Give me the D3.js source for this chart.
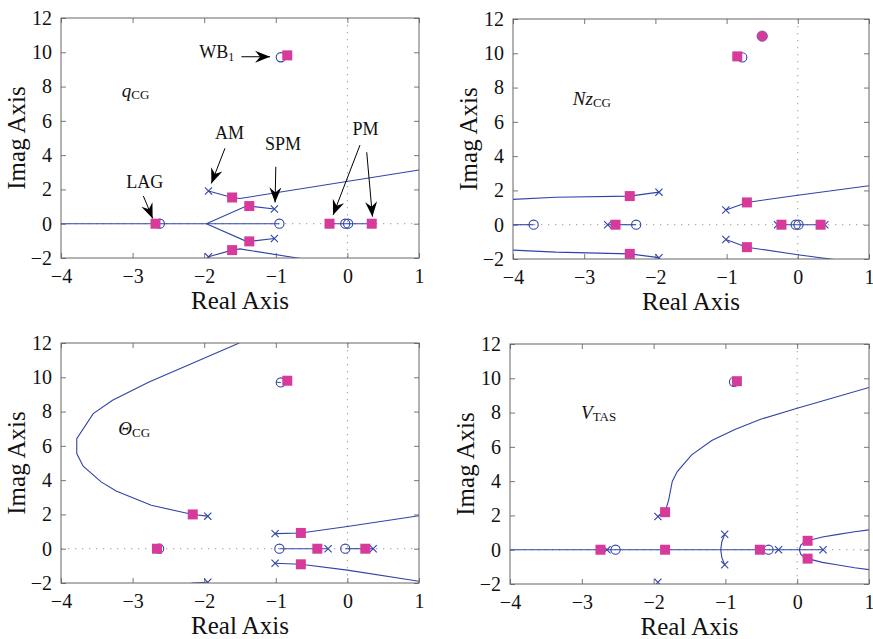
<!DOCTYPE html>
<html>
<head>
<meta charset="utf-8">
<script src="https://cdn.jsdelivr.net/npm/d3@7"></script>
<style>
  body { margin: 0; background: #fff; }
  svg { display: block; }
  text { font-family: "Liberation Serif", "Times New Roman", serif; fill: #111; }
</style>
</head>
<body>
<div id="main"></div>
<script>
// axis ticks (shared by all four plots)
const xTicks = [-4, -3, -2, -1, 0, 1];
const yTicks = [-2, 0, 2, 4, 6, 8, 10, 12];

// q_CG loop
const qLoci = [
  [[-4, 0], [-0.95, 0]],
  [[-1.94, 1.91], [-1.61, 1.53], [-1.5, 1.47], [1, 3.13]],
  [[-1.94, -1.93], [-1.61, -1.54], [-1.5, -1.47], [1, -3.13]],
  [[-1.97, 0], [-1.41, 1.03], [-1.37, 1.03], [-1.02, 0.86]],
  [[-1.97, 0], [-1.41, -1.03], [-1.37, -1.03], [-1.02, -0.86]],
  [[-0.25, 0], [0.34, 0]]
];
const qPoles = [[-1.94, 1.91], [-1.94, -1.93], [-1.02, 0.86], [-1.02, -0.86]];
const qZeros = [[-0.93, 9.71], [-2.62, 0], [-0.95, 0], [-0.03, 0], [0.01, 0]];
const qGains = [[-0.84, 9.82], [-1.61, 1.53], [-1.61, -1.54], [-1.37, 1.03], [-1.37, -1.03],
  [-2.68, 0], [-0.25, 0], [0.34, 0]];
const qDots = [];

// Nz_CG loop
const nzLoci = [
  [[-4, 1.48], [-3.4, 1.6], [-2.36, 1.67], [-1.95, 1.9]],
  [[-4, -1.48], [-3.4, -1.6], [-2.36, -1.7], [-1.95, -1.92]],
  [[-4, 0], [-3.71, 0]],
  [[-2.67, 0], [-2.27, 0]],
  [[-1.01, 0.86], [-0.715, 1.3], [0, 1.72], [1, 2.27]],
  [[-1.01, -0.86], [-0.715, -1.31], [0, -1.75], [1, -2.3]],
  [[-0.23, 0], [0.32, 0]]
];
const nzPoles = [[-1.95, 1.9], [-1.95, -1.93], [-2.67, 0], [-1.01, 0.86], [-1.01, -0.86],
  [-0.285, 0], [0.38, 0]];
const nzZeros = [[-3.71, 0], [-2.27, 0], [-0.78, 9.76], [-0.03, 0], [0.01, 0]];
const nzGains = [[-0.85, 9.82], [-2.36, 1.67], [-2.36, -1.7], [-2.56, 0], [-0.715, 1.3],
  [-0.715, -1.31], [-0.23, 0], [0.32, 0]];
const nzDots = [[-0.5, 11.0]];

// Theta_CG loop
const thLoci = [
  [[-1.95, 1.9], [-2.16, 2.0], [-2.74, 2.53], [-3.23, 3.37], [-3.44, 3.9], [-3.69, 4.81],
   [-3.78, 5.55], [-3.78, 6.42], [-3.55, 7.88], [-3.28, 8.66], [-2.77, 9.72], [-1.51, 12]],
  [[-1.95, -1.96], [-2.16, -2.0], [-2.74, -2.53]],
  [[-1.01, 0.88], [-0.65, 0.92], [0, 1.3], [1, 1.92]],
  [[-1.01, -0.85], [-0.65, -0.91], [0, -1.25], [1, -1.9]],
  [[-0.95, 0], [-0.27, 0]],
  [[-0.03, 0], [0.36, 0]],
  [[-0.99, 9.71], [-0.93, 9.7]]
];
const thPoles = [[-1.95, 1.9], [-1.95, -1.96], [-1.01, 0.88], [-1.01, -0.85], [-0.27, 0], [0.36, 0]];
const thZeros = [[-0.93, 9.7], [-2.63, 0], [-0.95, 0], [-0.03, 0]];
const thGains = [[-0.84, 9.8], [-2.16, 2.0], [-2.66, 0], [-0.65, 0.92], [-0.65, -0.91],
  [-0.42, 0], [0.25, 0]];
const thDots = [];

// V_TAS loop
const vLoci = [
  [[-4, 0], [0.36, 0]],
  [[-1.94, 1.94], [-1.84, 2.19], [-1.79, 2.91], [-1.74, 3.98], [-1.67, 4.56], [-1.47, 5.53],
   [-1.19, 6.37], [-0.86, 7.03], [-0.51, 7.61], [0, 8.25], [1, 9.46]],
  [[-1.01, 0.9], [-1.05, 0.45], [-1.065, 0], [-1.05, -0.45], [-1.01, -0.88]],
  [[0.03, 0], [0.05, 0.27], [0.1, 0.44], [0.145, 0.52], [0.35, 0.74], [0.55, 0.88], [0.8, 1.05], [1, 1.16]],
  [[0.03, 0], [0.05, -0.27], [0.1, -0.44], [0.145, -0.52], [0.35, -0.74], [0.55, -0.88], [0.8, -1.05], [1, -1.16]]
];
const vPoles = [[-1.94, 1.94], [-1.94, -1.9], [-2.65, 0], [-1.01, 0.9], [-1.01, -0.88], [-0.26, 0], [0.36, 0]];
const vZeros = [[-0.88, 9.79], [-2.53, 0], [-0.4, 0]];
const vGains = [[-0.84, 9.83], [-1.84, 2.19], [-2.74, 0], [-1.84, 0], [-0.52, 0], [0.145, 0.52], [0.145, -0.52]];
const vDots = [];

// annotations of the first plot (data coordinates)
const qNotes = [
  { t: 'WB', sub: '1', x: -2.07, y: 9.65 },
  { t: 'AM', x: -1.85, y: 4.94 },
  { t: 'SPM', x: -1.15, y: 4.3 },
  { t: 'PM', x: 0.07, y: 5.17 },
  { t: 'LAG', x: -3.09, y: 2.1 }
];
const qArrows = [
  [[-1.48, 9.74], [-1.08, 9.74]],
  [[-1.71, 4.4], [-1.9, 2.35]],
  [[-1.0, 3.32], [-1.01, 1.24]],
  [[0.176, 4.59], [-0.2, 0.51]],
  [[0.27, 4.17], [0.35, 0.41]],
  [[-2.85, 1.62], [-2.72, 0.31]]
];

const blue = '#2f44a8';
const pink = '#d63a9a';
const serif = '"Liberation Serif", "Times New Roman", serif';

const panels = [
  { left: 61, top: 18, w: 358, h: 240, loci: qLoci, poles: qPoles, zeros: qZeros, gains: qGains, dots: qDots,
    label: { main: 'q', sub: 'CG', x: -3.15, y: 7.39 }, notes: qNotes, arrows: qArrows },
  { left: 513, top: 19, w: 356, h: 240, loci: nzLoci, poles: nzPoles, zeros: nzZeros, gains: nzGains, dots: nzDots,
    label: { main: 'Nz', sub: 'CG', x: -3.16, y: 6.98 }, notes: [], arrows: [] },
  { left: 61, top: 343, w: 358, h: 240, loci: thLoci, poles: thPoles, zeros: thZeros, gains: thGains, dots: thDots,
    label: { main: 'Θ', sub: 'CG', x: -3.2, y: 6.61 }, notes: [], arrows: [] },
  { left: 510, top: 344, w: 359, h: 240, loci: vLoci, poles: vPoles, zeros: vZeros, gains: vGains, dots: vDots,
    label: { main: 'V', sub: 'TAS', x: -3.01, y: 7.63 }, notes: [], arrows: [] }
];

const svg = d3.select('#main')
  .append('svg')
  .attr('width', 873)
  .attr('height', 639);

// arrow head marker
svg.append('defs')
  .append('marker')
  .attr('id', 'head')
  .attr('markerUnits', 'userSpaceOnUse')
  .attr('viewBox', '-15 -7 16 14')
  .attr('refX', 0)
  .attr('refY', 0)
  .attr('markerWidth', 16)
  .attr('markerHeight', 14)
  .attr('orient', 'auto')
  .append('path')
  .attr('d', 'M0,0 L-15,-6 L-10,0 L-15,6 Z')
  .attr('fill', '#000');

const fmt = d3.format('d');

panels.forEach((p, i) => {
  const xScale = d3.scaleLinear().domain([-4, 1]).range([0, p.w]);
  const yScale = d3.scaleLinear().domain([-2, 12]).range([p.h, 0]);

  const g = svg.append('g').attr('transform', `translate(${p.left}, ${p.top})`);

  g.append('clipPath').attr('id', 'clip' + i)
    .append('rect').attr('width', p.w).attr('height', p.h);

  // dotted zero lines
  g.append('line')
    .attr('x1', 0).attr('x2', p.w)
    .attr('y1', yScale(0)).attr('y2', yScale(0))
    .attr('stroke', '#999').attr('stroke-dasharray', '1.3,5.7');
  g.append('line')
    .attr('x1', xScale(0)).attr('x2', xScale(0))
    .attr('y1', 0).attr('y2', p.h)
    .attr('stroke', '#999').attr('stroke-dasharray', '1.3,5.7');

  // axes, ticks inside on all sides
  const tickStyle = sel => {
    sel.attr('font-family', serif);
    sel.select('.domain').remove();
    sel.selectAll('.tick line').attr('stroke', '#777');
    sel.selectAll('.tick text').style('font-size', '20px').attr('fill', '#111');
  };
  g.append('g').attr('transform', `translate(0, ${p.h})`)
    .call(d3.axisBottom(xScale).tickValues(xTicks).tickFormat(fmt).tickSize(-5).tickPadding(11))
    .call(tickStyle);
  g.append('g')
    .call(d3.axisLeft(yScale).tickValues(yTicks).tickFormat(fmt).tickSize(-5).tickPadding(9))
    .call(tickStyle);
  g.append('g')
    .call(d3.axisTop(xScale).tickValues(xTicks).tickSize(-5).tickFormat(''))
    .call(tickStyle);
  g.append('g').attr('transform', `translate(${p.w}, 0)`)
    .call(d3.axisRight(yScale).tickValues(yTicks).tickSize(-5).tickFormat(''))
    .call(tickStyle);

  const plot = g.append('g').attr('clip-path', `url(#clip${i})`);

  const line = d3.line()
    .x(d => xScale(d[0]))
    .y(d => yScale(d[1]));

  plot.selectAll('path.locus')
    .data(p.loci)
    .enter()
    .append('path')
    .attr('class', 'locus')
    .attr('d', line)
    .attr('fill', 'none')
    .attr('stroke', blue)
    .attr('stroke-width', 1.1);

  plot.selectAll('circle.zero')
    .data(p.zeros)
    .enter()
    .append('circle')
    .attr('class', 'zero')
    .attr('cx', d => xScale(d[0]))
    .attr('cy', d => yScale(d[1]))
    .attr('r', 4.6)
    .attr('fill', 'none')
    .attr('stroke', blue)
    .attr('stroke-width', 1.1);

  plot.selectAll('path.pole')
    .data(p.poles)
    .enter()
    .append('path')
    .attr('class', 'pole')
    .attr('d', d => {
      const cx = xScale(d[0]), cy = yScale(d[1]), s = 3.6;
      return `M${cx - s},${cy - s}L${cx + s},${cy + s}M${cx - s},${cy + s}L${cx + s},${cy - s}`;
    })
    .attr('stroke', blue)
    .attr('stroke-width', 1.1);

  plot.selectAll('rect.gain')
    .data(p.gains)
    .enter()
    .append('rect')
    .attr('class', 'gain')
    .attr('x', d => xScale(d[0]) - 5)
    .attr('y', d => yScale(d[1]) - 5)
    .attr('width', 10)
    .attr('height', 10)
    .attr('fill', pink);

  plot.selectAll('circle.dot')
    .data(p.dots)
    .enter()
    .append('circle')
    .attr('class', 'dot')
    .attr('cx', d => xScale(d[0]))
    .attr('cy', d => yScale(d[1]))
    .attr('r', 5.2)
    .attr('fill', pink)
    .attr('stroke', '#7a4aa8')
    .attr('stroke-width', 0.8);

  // box
  g.append('rect')
    .attr('width', p.w).attr('height', p.h)
    .attr('fill', 'none').attr('stroke', '#666').attr('stroke-width', 1);

  // axis titles
  g.append('text')
    .attr('x', p.w / 2).attr('y', p.h + 51)
    .attr('text-anchor', 'middle')
    .style('font-size', '25px')
    .text('Real Axis');
  g.append('text')
    .attr('transform', `translate(-36, ${p.h / 2}) rotate(-90)`)
    .attr('text-anchor', 'middle')
    .style('font-size', '25px')
    .text('Imag Axis');

  // signal label
  const lab = g.append('text')
    .attr('x', xScale(p.label.x)).attr('y', yScale(p.label.y))
    .style('font-size', '19px');
  lab.append('tspan').style('font-style', 'italic').text(p.label.main);
  lab.append('tspan').attr('dy', 2).style('font-size', '13px').text(p.label.sub);

  // annotations
  p.notes.forEach(n => {
    const t = g.append('text')
      .attr('x', xScale(n.x)).attr('y', yScale(n.y))
      .style('font-size', '18px')
      .text(n.t);
    if (n.sub) t.append('tspan').attr('dy', 3).style('font-size', '12px').text(n.sub);
  });
  g.selectAll('line.arrow')
    .data(p.arrows)
    .enter()
    .append('line')
    .attr('class', 'arrow')
    .attr('x1', d => xScale(d[0][0])).attr('y1', d => yScale(d[0][1]))
    .attr('x2', d => xScale(d[1][0])).attr('y2', d => yScale(d[1][1]))
    .attr('stroke', '#000')
    .attr('stroke-width', 1)
    .attr('marker-end', 'url(#head)');
});
</script>
</body>
</html>
